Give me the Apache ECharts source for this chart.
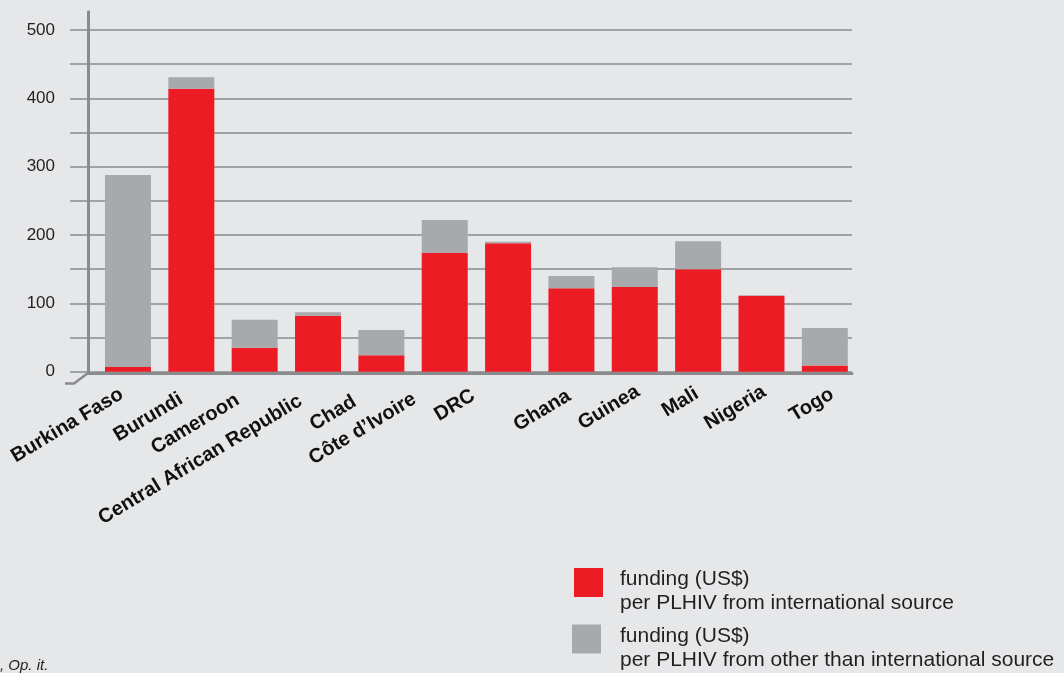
<!DOCTYPE html>
<html><head><meta charset="utf-8">
<script src="https://cdn.jsdelivr.net/npm/echarts@6/dist/echarts.min.js"></script>
<style>html,body{margin:0;padding:0;background:#e6e7e8;}#c{width:1064px;height:673px;}</style>
</head><body><div id="c"></div>
<script>
const categories = ['Burkina Faso', 'Burundi', 'Cameroon', 'Central African Republic', 'Chad', 'Côte d’Ivoire', 'DRC', 'Ghana', 'Guinea', 'Mali', 'Nigeria', 'Togo'];
const international = [7, 414, 35, 82, 24, 174, 188, 122, 124, 150, 111, 9];
const otherSource = [281, 17, 41, 5, 37, 48, 2, 18, 29, 41, 1, 55];
const yTickLabels = [0, 100, 200, 300, 400, 500];
const seriesNames = ['funding (US$)\nper PLHIV from international source', 'funding (US$)\nper PLHIV from other than international source'];

// label placement nudges (style only), [dx, dy] in px
const labelNudge = [[-18.4,1.0],[-22.2,5.9],[-29.1,6.9],[-29.7,7.8],[-38.8,8.5],[-42.2,5.9],[-46.7,2.4],[-14.6,2.8],[-8.8,-1.7],[-13.1,0.5],[-9.2,-1.5],[-4.7,1.0]];

const FONT = 'Liberation Sans, Arial, Helvetica, sans-serif';
const ROT = 31;
const cosA = Math.cos(ROT * Math.PI / 180), sinA = Math.sin(ROT * Math.PI / 180);
const nudgeLocal = labelNudge.map(n => ({
  a: n[0] * cosA - n[1] * sinA,
  s: n[0] * sinA + n[1] * cosA
}));
const labelRich = {t: {fontSize: 20, fontWeight: 'bold', fontFamily: FONT, color: '#111', lineHeight: 24}};
nudgeLocal.forEach((q, i) => {
  labelRich['e' + i] = {fontSize: 1, lineHeight: Math.max(1, 2 * Math.abs(q.s))};
});
const AX = '#8a8b8d';
const chart = echarts.init(document.getElementById('c'));
const yMin = yTickLabels[0], yMax = yTickLabels[yTickLabels.length - 1];
function legendFmt() {
  return name => '{e|\u00a0}\n{a|' + name.split('\n').join('}\n{a|') + '}';
}
function legendRich(gap) {
  return {e: {fontSize: 1, lineHeight: gap}, a: {fontSize: 21, lineHeight: 24, color: '#231f20', fontFamily: FONT}};
}
chart.setOption({
  animation: false,
  backgroundColor: '#e6e7e8',
  grid: [
    {left: 96.3, right: 207.5, top: 30, bottom: 301.3, outerBoundsMode: 'none'},
    {left: 70, right: 212, top: 30, bottom: 301.3, outerBoundsMode: 'none'},
    {left: 88, right: 212, top: 11.7, bottom: 300, outerBoundsMode: 'none'},
    {left: 108.3, right: 195.5, top: 30, bottom: 301.3, outerBoundsMode: 'none'}
  ],
  xAxis: [
    {type: 'category', gridIndex: 0, data: categories, show: false},
    {type: 'value', gridIndex: 1, show: false, min: 0, max: 1},
    {type: 'value', gridIndex: 2, min: 0, max: 1, axisLine: {show: true, onZero: false, lineStyle: {color: AX, width: 3}},
      axisTick: {show: false}, axisLabel: {show: false}, splitLine: {show: false}},
    {type: 'category', gridIndex: 3,
      data: categories.map((c, i) => ({value: c, textStyle: {padding: [0, Math.max(0, -nudgeLocal[i].a), 0, 0]}})),
      axisLine: {show: false}, axisTick: {show: false},
      axisLabel: {interval: 0, rotate: ROT, margin: 20, fontSize: 20, fontWeight: 'bold', color: '#111', fontFamily: FONT,
        formatter: (v, i) => {
          const s = nudgeLocal[i].s;
          const t = '{t|' + v + '}';
          return s < 0 ? t + '\n{e' + i + '|\u00a0}' : '{e' + i + '|\u00a0}\n' + t;
        },
        rich: labelRich}}
  ],
  yAxis: [
    {type: 'value', gridIndex: 0, min: yMin, max: yMax, show: false},
    {type: 'value', gridIndex: 1, min: yMin, max: yMax, interval: 50,
      axisLine: {show: false}, axisTick: {show: false},
      axisLabel: {margin: 15, fontSize: 17, color: '#231f20', fontFamily: FONT,
        formatter: v => (yTickLabels.indexOf(v) >= 0 ? String(v) : '')},
      splitLine: {show: true, lineStyle: {color: AX, width: 1.5}}},
    {type: 'value', gridIndex: 2, min: 0, max: 1, axisLine: {show: true, onZero: false, lineStyle: {color: AX, width: 3}},
      axisTick: {show: false}, axisLabel: {show: false}, splitLine: {show: false}},
    {type: 'value', gridIndex: 3, show: false}
  ],
  legend: [
    {data: [seriesNames[0]], orient: 'vertical', left: 574, top: 558, padding: 0, itemWidth: 29, itemHeight: 29, icon: 'rect',
      selectedMode: false, formatter: legendFmt(),
      textStyle: {fontSize: 21, padding: [0, 0, 0, 12], color: '#231f20', fontFamily: FONT, rich: legendRich(17)}},
    {data: [seriesNames[1]], orient: 'vertical', left: 572, top: 614.5, padding: 0, itemWidth: 29, itemHeight: 29, icon: 'rect',
      selectedMode: false, formatter: legendFmt(),
      textStyle: {fontSize: 21, padding: [0, 0, 0, 14], color: '#231f20', fontFamily: FONT, rich: legendRich(19)}}
  ],
  graphic: [
    {type: 'polyline', shape: {points: [[88, 373], [74, 383.5], [65, 383.5]]}, style: {stroke: AX, lineWidth: 2.5, fill: null}, silent: true},
    {type: 'text', left: 0, top: 658, style: {text: ', Op. it.', font: 'italic 15px ' + FONT, fill: '#231f20'}, silent: true}
  ],
  series: [
    {name: seriesNames[0], type: 'bar', stack: 'total', xAxisIndex: 0, yAxisIndex: 0, barWidth: 46,
      itemStyle: {color: '#ed1c24'}, data: international},
    {name: seriesNames[1], type: 'bar', stack: 'total', xAxisIndex: 0, yAxisIndex: 0, barWidth: 46,
      itemStyle: {color: '#a7a9ac'}, data: otherSource}
  ]
});
</script></body></html>
